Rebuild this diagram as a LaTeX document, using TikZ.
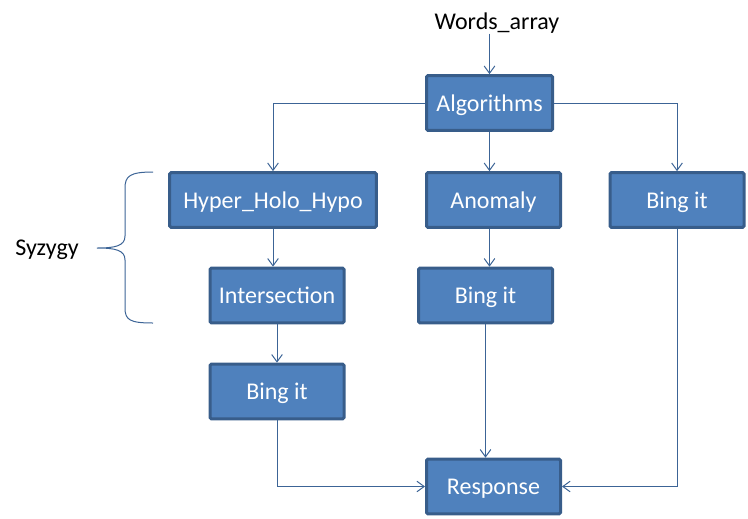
\documentclass[tikz,border=0pt]{standalone}
\usepackage{fontspec}
\setmainfont{Carlito}
\usetikzlibrary{arrows.meta,calc}
\definecolor{boxfill}{HTML}{4F81BD}
\definecolor{boxline}{HTML}{385D8A}
\definecolor{conn}{HTML}{3C6496}
\tikzset{
  px/.style={x=0.75pt,y=-0.75pt},
  box/.style={draw=boxline, fill=boxfill, line width=2.25pt, rounded corners=1pt,
    text=white, font=\fontsize{18}{21}\selectfont, inner sep=0pt,
    text height=14.5pt, text depth=2pt, minimum height=41pt},
  wbox/.style={box, minimum width=100.5pt},
  lbl/.style={font=\fontsize{18}{21}\selectfont, text=black, inner sep=0pt},
  arr/.style={draw=conn, line width=0.75pt, -{Straight Barb[length=5.5pt,width=8pt]}},
  ln/.style={draw=conn, line width=0.75pt},
}
\begin{document}
\begin{tikzpicture}[px]
\useasboundingbox (0,0) rectangle (748,518);
\node[lbl] (words) at (497,23) {Words\_array};
\node[box, minimum width=94.5pt] (alg) at (489.5,103) {Algorithms};
\node[box, minimum width=155pt] (hyper) at (273,200) {Hyper\_Holo\_Hypo};
\node[wbox] (anom) at (493.5,200) {Anomaly};
\node[wbox] (bingR) at (677,200) {Bing it};
\node[wbox] (inter) at (277,295.5) {Intersection};
\node[wbox] (bingM) at (485.5,295.5) {Bing it};
\node[wbox] (bingL) at (277,391.5) {Bing it};
\node[wbox] (resp) at (493.5,486.5) {Response};
\node[lbl] (syz) at (47,250) {Syzygy};
% brace
\coordinate (brTop) at (153,172);
\coordinate (brTip) at (97,248);
\coordinate (brBot) at (153,323);
\draw[ln] (brTop) .. controls (130,172) and (125,176) .. (125,188)
  -- (125,236) .. controls (125,246) and (115,248) .. (brTip)
  .. controls (115,248) and (125,250) .. (125,260)
  -- (125,308) .. controls (125,320) and (130,323) .. (brBot);
% connectors
\draw[arr] (words.south -| alg.north) -- (alg.north);
\draw[arr] (alg.west) -| (hyper.north);
\draw[arr] (alg.east) -| (bingR.north);
\draw[arr] (alg.south) -- (alg.south |- anom.north);
\draw[arr] (hyper.south) -- (hyper.south |- inter.north);
\draw[arr] (alg.south |- anom.south) -- (alg.south |- bingM.north);
\draw[arr] (inter.south) -- (bingL.north);
\draw[arr] (bingL.south) |- (resp.west);
\draw[arr] (bingM.south) -- (bingM.south |- resp.north);
\draw[arr] (bingR.south) |- (resp.east);
\end{tikzpicture}
\end{document}
